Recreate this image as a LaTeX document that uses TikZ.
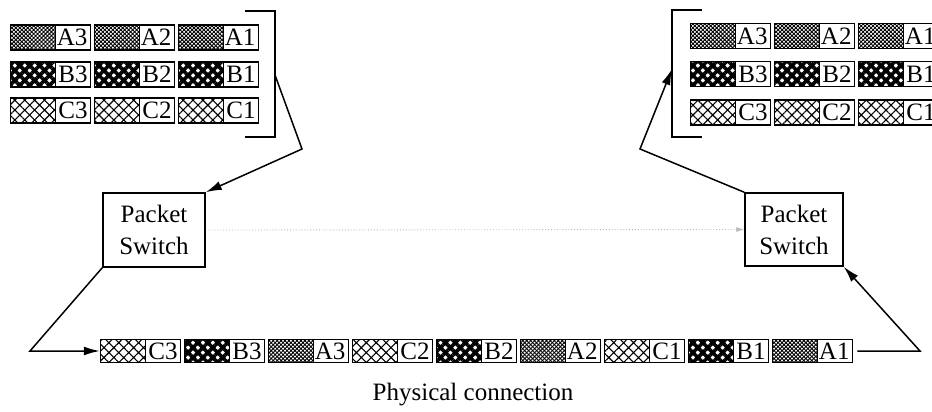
\documentclass[tikz,border=0pt]{standalone}
\usepackage{fontspec}
\setmainfont{Liberation Serif}
\usetikzlibrary{arrows.meta,patterns.meta}
\newcommand\pkfont{\fontsize{25}{26}\selectfont}
\newcommand\swfont{\fontsize{25}{32}\selectfont}
\tikzset{
  patA/.style={pattern={Hatch[angle=45,distance=2.8pt,line width=0.9pt]}},
  patB/.style={pattern={Hatch[angle=45,distance=7pt,line width=3.6pt]}},
  patC/.style={pattern={Hatch[angle=45,distance=7pt,line width=1.1pt]}},
  pk/.style={draw, line width=1.5pt, minimum width=80pt, minimum height=25pt,
    inner xsep=3pt, inner ysep=0pt, text width=74pt, align=right,
    text height=16.5pt, text depth=0pt, font=\pkfont},
  pkt/.style={pk, path picture={
      \fill[#1] (path picture bounding box.south west)
        rectangle ([xshift=45pt]path picture bounding box.north west);
      \draw[line width=1.5pt] ([xshift=45pt]path picture bounding box.south west)
        -- ([xshift=45pt]path picture bounding box.north west);}},
  pkbot/.style={minimum height=23pt},
  sw/.style={draw, line width=1.5pt, align=center, font=\swfont, inner sep=0pt},
  conn/.style={line width=1.5pt},
  tip/.style={-{Latex[length=16pt,width=9pt]}},
}
\begin{document}
\begin{tikzpicture}[x=1pt,y=-1pt]
\path[use as bounding box, clip] (0,0) rectangle (932,412);

% sending side: three streams of packets
\foreach \L/\y in {A/37.5,B/74.5,C/110.5}{
  \foreach \n/\x in {3/50.5,2/134.5,1/218.5}{
    \node[pkt/.expanded=pat\L] (l\L\n) at (\x,\y) {\L\n};
  }
}
% receiving side
\foreach \L/\y in {A/36,B/74,C/112.5}{
  \foreach \n/\x in {3/730.5,2/814.5,1/898.5}{
    \node[pkt/.expanded=pat\L] (r\L\n) at (\x,\y) {\L\n};
  }
}

% brackets round each group
\draw[conn] (245,11) -- (275,11) -- (275,137) -- (245,137);
\draw[conn] (702,10) -- (672,10) -- (672,137) -- (702,137);

% packet switches
\node[sw, minimum width=102pt, minimum height=74pt] (s1) at (154,230) {Packet\\Switch};
\node[sw, minimum width=98pt, minimum height=73pt] (s2) at (794,229.5) {Packet\\Switch};

% multiplexed packets on the physical link
\foreach \L/\n [count=\i] in {C/3,B/3,A/3,C/2,B/2,A/2,C/1,B/1,A/1}{
  \node[pkt/.expanded=pat\L, pkbot] (p\i) at ({140.5+84*(\i-1)},351) {\L\n};
}

\node[font=\pkfont] (phys) at (473,395) {Physical connection};

% connectors
\coordinate (lb) at (275,75);
\coordinate (lk) at (302,149);
\draw[conn, tip] (lb) -- (lk) -- (s1.north east);

\coordinate (bl) at (30,351);
\draw[conn, tip] (s1.south west) -- (bl) -- (p1.west);

\coordinate (br) at (920,351);
\draw[conn, tip, shorten <=4pt] (p9.east) -- (br) -- (s2.south east);

\coordinate (rk) at (640,149);
\coordinate (rb) at (672,69);
\draw[conn, tip] (s2.north west) -- (rk) -- (rb);

\draw[gray!55, dotted, line width=0.9pt, -{Latex[length=8pt,width=5pt]}] (s1.east) -- (s2.west);
\end{tikzpicture}
\end{document}
